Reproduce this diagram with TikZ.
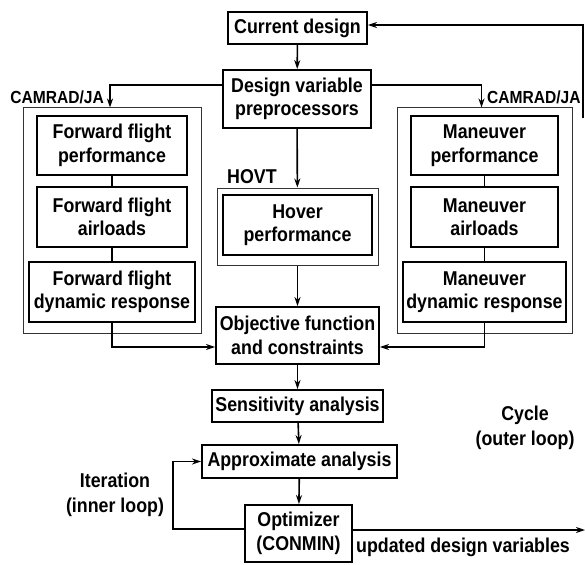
\documentclass[tikz,border=0pt]{standalone}
\usepackage{fontspec}
\setmainfont{Liberation Sans}[FakeStretch=0.89]
\usetikzlibrary{arrows.meta}
\begin{document}
\begin{tikzpicture}[x=1pt,y=-1pt,
  box/.style={draw,line width=1.9pt,align=center,inner sep=0pt,font=\fontsize{20}{23.5}\selectfont\bfseries},
  outer/.style={draw=black!80,line width=1pt,inner sep=0pt},
  lbl/.style={align=center,inner sep=0pt,font=\fontsize{20}{25}\selectfont\bfseries},
  slbl/.style={inner sep=0pt,font=\fontsize{17.5}{20}\selectfont\bfseries},
  arr/.style={line width=1.6pt,-{Stealth[length=9pt,width=6pt]}},
  ln/.style={line width=1.6pt}]
\useasboundingbox (0,0) rectangle (585,564);
% outer boxes
\node[outer,minimum width=178pt,minimum height=225pt] (lout) at (112,220.5) {};
\node[outer,minimum width=175pt,minimum height=225pt] (rout) at (484.5,220.5) {};
\node[outer,minimum width=161pt,minimum height=77pt] (hovout) at (297.5,226.5) {};
% main boxes
\node[box,minimum width=139pt,minimum height=32pt] (cur) at (297.5,28) {Current design};
\node[box,minimum width=148pt,minimum height=58pt] (dvp) at (297,99) {Design variable\\preprocessors};
\node[box,minimum width=150pt,minimum height=59pt] (ffp) at (112,145.5) {Forward flight\\performance};
\node[box,minimum width=150pt,minimum height=60pt] (ffa) at (112,217) {Forward flight\\airloads};
\node[box,minimum width=166pt,minimum height=60pt] (ffd) at (112,292) {Forward flight\\dynamic response};
\node[box,minimum width=149pt,minimum height=60pt] (hov) at (297.5,225) {Hover\\performance};
\node[box,minimum width=147pt,minimum height=59pt] (mp) at (484.5,145.5) {Maneuver\\performance};
\node[box,minimum width=147pt,minimum height=60pt] (ma) at (484.5,217) {Maneuver\\airloads};
\node[box,minimum width=163pt,minimum height=60pt] (md) at (484.5,292) {Maneuver\\dynamic response};
\node[box,minimum width=163pt,minimum height=57pt] (obj) at (297.5,335.5) {Objective function\\and constraints};
\node[box,minimum width=171pt,minimum height=32pt] (sens) at (297.5,406) {Sensitivity analysis};
\node[box,minimum width=195pt,minimum height=33pt] (apx) at (299.5,461.5) {Approximate analysis};
\node[box,minimum width=107pt,minimum height=57pt] (opt) at (298.5,533.5) {Optimizer\\(CONMIN)};
% labels
\node[slbl,anchor=east] (camL) at (104,97) {CAMRAD/JA};
\node[slbl,anchor=west] (camR) at (487,97) {CAMRAD/JA};
\node[lbl,anchor=west] (hovt) at (227,177) {HOVT};
\node[lbl] (iter) at (115,494.5) {Iteration\\(inner loop)};
\node[lbl] (cyc) at (525,427.5) {Cycle\\(outer loop)};
\node[lbl] (upd) at (463,547) {updated design variables};
% coordinates
\coordinate (outend) at (585,530);
\coordinate (cyctop) at (583,25);
\coordinate (cycbot) at (583,118);
% connectors
\draw[arr] (cur) -- (dvp);
\draw[arr] ([yshift=14pt]dvp.west) -| ([xshift=-2pt]lout.north);
\draw[arr] ([yshift=14pt]dvp.east) -| ([xshift=-3pt]rout.north);
\draw[arr] (dvp) -- (hovout);
\draw[ln] (ffp) -- (ffa);
\draw[ln] (ffa) -- (ffd);
\draw[ln] (mp) -- (ma);
\draw[ln] (ma) -- (md);
\draw[arr] (ffd.south) |- ([yshift=-11.5pt]obj.west);
\draw[arr] (md.south) |- ([yshift=-11.5pt]obj.east);
\draw[arr] (hovout) -- (obj);
\draw[arr] (obj) -- (sens);
\draw[arr] (sens) -- (apx);
\draw[arr] (apx) -- (opt);
\draw[arr] ([yshift=4.5pt]opt.west) -- ++(-71,0) |- (apx.west);
\draw[arr] ([yshift=3.5pt]opt.east) -- (outend);
\draw[arr] (cycbot) -- (cyctop) -- ([yshift=3pt]cur.east);
\end{tikzpicture}
\end{document}
